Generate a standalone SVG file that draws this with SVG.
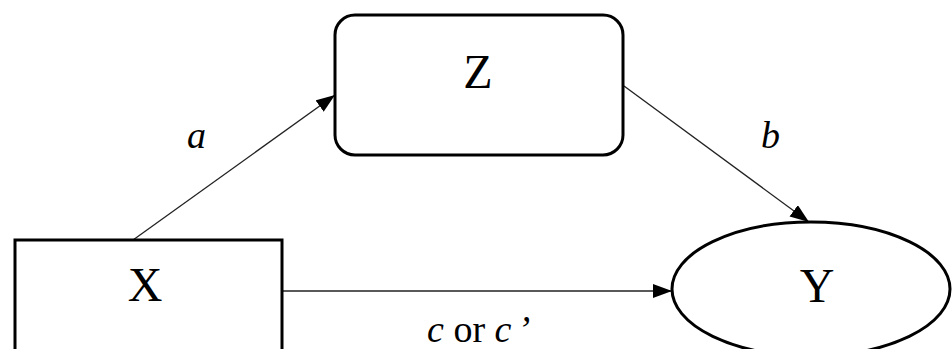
<svg xmlns="http://www.w3.org/2000/svg" width="952" height="349" viewBox="0 0 952 349">
<style>
.node{fill:#fff;stroke:#000;stroke-width:3}
.lbl{font-family:"Liberation Serif","Times New Roman",serif;font-size:48px;fill:#000;text-anchor:middle}
.edge{stroke:#222;stroke-width:1.3;fill:none}
.elbl{font-family:"Liberation Serif","Times New Roman",serif;font-size:38px;font-style:italic;fill:#000}
</style>
<defs>
<marker id="arr" markerUnits="userSpaceOnUse" markerWidth="20" markerHeight="16" refX="19" refY="7" orient="auto">
<path d="M0,0 L19,7 L0,14 Z" fill="#000"/>
</marker>
</defs>
<rect width="952" height="349" fill="#fff"/>
<g id="connectors">
<line class="edge" x1="133" y1="240" x2="335" y2="95" marker-end="url(#arr)"/>
<line class="edge" x1="624" y1="86" x2="809" y2="222" marker-end="url(#arr)"/>
<line class="edge" x1="282" y1="291" x2="672" y2="291" marker-end="url(#arr)"/>
</g>
<g id="node-X">
<rect class="node" x="15" y="240" width="267" height="116"/>
<text class="lbl" x="145" y="301">X</text>
</g>
<g id="node-Z">
<rect class="node" x="335" y="15" width="288" height="140" rx="20" ry="20"/>
<text class="lbl" x="478" y="88">Z</text>
</g>
<g id="node-Y">
<ellipse class="node" cx="811" cy="289" rx="139" ry="67"/>
<text class="lbl" x="817" y="302">Y</text>
</g>
<g id="edge-labels">
<text class="elbl" x="187" y="148">a</text>
<text class="elbl" x="761" y="148">b</text>
<text x="427" y="342" style="font-family:'Liberation Serif','Times New Roman',serif;font-size:38px;fill:#000"><tspan font-style="italic">c</tspan> or <tspan font-style="italic">c</tspan><tspan font-style="italic" dx="6">’</tspan></text>
</g>
</svg>
